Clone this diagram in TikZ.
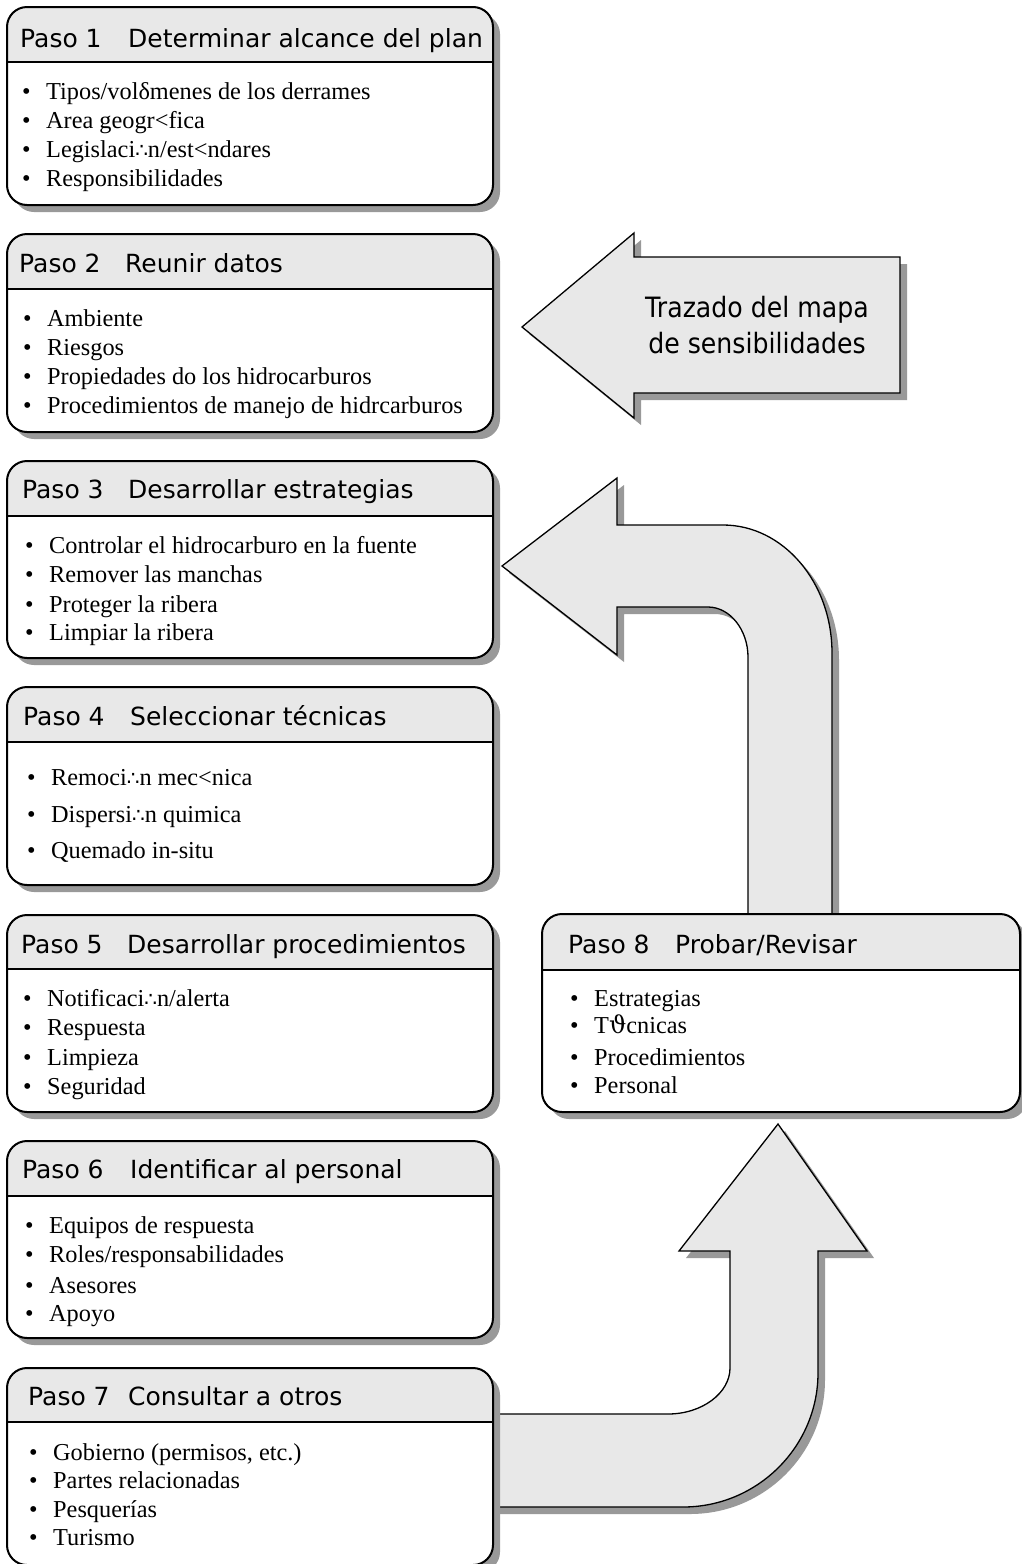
\documentclass[tikz,border=0pt]{standalone}
\usepackage{fontspec}
\setmainfont{Liberation Serif}
\newfontfamily\hdfont{DejaVu Sans}
\newfontfamily\trfont[FakeStretch=0.9]{DejaVu Sans}
\newfontfamily\symsans{DejaVu Sans}
\newfontfamily\symserif{DejaVu Serif}
\newcommand\thf{{\symsans\fontsize{20}{24}\selectfont ∴}}
\newcommand\vth{{\symserif ϑ}}
\definecolor{hdrc}{HTML}{E8E8E8}
\definecolor{shadowc}{HTML}{999999}
\tikzset{
  hdtext/.style={anchor=base west, inner sep=0pt, font=\hdfont\fontsize{25}{30}\selectfont},
  itext/.style={anchor=base west, inner sep=0pt, font=\fontsize{24.3}{29}\selectfont},
  btext/.style={anchor=base west, inner sep=0pt, font=\fontsize{24.3}{29}\selectfont},
  arrowshape/.style={fill=hdrc, draw=black, line width=1.3pt, line join=miter},
  arrowshadow/.style={fill=shadowc},
}
\newcommand\stepframe[6]{%
  \fill[shadowc, rounded corners=20pt] ({#2+7},{#3+7}) rectangle ({#4+7},{#6+7});
  \begin{scope}
    \clip[rounded corners=20pt] (#2,#3) rectangle (#4,#6);
    \fill[hdrc] (#2,#3) rectangle (#4,#5);
    \fill[white] (#2,#5) rectangle (#4,#6);
  \end{scope}
  \draw[line width=1.4pt] (#2,#5) -- (#4,#5);
  \draw[line width=2pt, rounded corners=20pt] (#2,#3) rectangle (#4,#6);
  \coordinate (#1) at (#2,#3);
}
\newcommand\hd[5]{\node[hdtext] (#1) at (#2,#3) {\makebox[#4pt][l]{#5}};}
\newcommand\itm[4]{%
  \node[btext] (#1b) at ({#2-24},#3) {•};
  \node[itext] (#1) at (#2,#3) {#4};}
\begin{document}
\begin{tikzpicture}[x=1pt,y=-1pt]
\useasboundingbox (0,0) rectangle (1021,1564);
\fill[white] (0,0) rectangle (1021,1564);

% ---- Arrow 1: Trazado del mapa de sensibilidades
\path[arrowshadow, shift={(7,7)}] (522,327) -- (634,233) -- (634,257) -- (900,257) -- (900,393) -- (634,393) -- (634,418) -- cycle;
\path[arrowshape] (522,327) -- (634,233) -- (634,257) -- (900,257) -- (900,393) -- (634,393) -- (634,418) -- cycle;
\node[align=center, inner sep=0pt, font=\trfont\fontsize{28}{36}\selectfont, anchor=base] (traz) at (757,353) {Trazado del mapa\\de sensibilidades};

% ---- Arrow 2: from Paso 8 up and left to Paso 3
\path[arrowshadow, shift={(7,7)}] (502,566) -- (617,478) -- (617,525) -- (723,525)
  .. controls (783,525) and (832,582) .. (832,653) -- (832,914) -- (748,914) -- (748,657)
  .. controls (748,630) and (730,607) .. (708,607) -- (617,607) -- (617,655) -- cycle;
\path[arrowshape] (502,566) -- (617,478) -- (617,525) -- (723,525)
  .. controls (783,525) and (832,582) .. (832,653) -- (832,918) -- (748,918) -- (748,657)
  .. controls (748,630) and (730,607) .. (708,607) -- (617,607) -- (617,655) -- cycle;

% ---- Arrow 3: from Paso 7 right and up to Paso 8
\path[arrowshadow, shift={(7,7)}] (778,1124) -- (867,1251) -- (818,1251) -- (818,1373)
  .. controls (818,1446) and (758,1507) .. (683,1507) -- (488,1507) -- (488,1414) -- (668,1414)
  .. controls (702,1414) and (730,1393) .. (730,1368) -- (730,1251) -- (679,1251) -- cycle;
\path[arrowshape] (778,1124) -- (867,1251) -- (818,1251) -- (818,1373)
  .. controls (818,1446) and (758,1507) .. (683,1507) -- (488,1507) -- (488,1414) -- (668,1414)
  .. controls (702,1414) and (730,1393) .. (730,1368) -- (730,1251) -- (679,1251) -- cycle;

% ---- Boxes
\stepframe{b1}{7}{7}{493}{62}{205}
\stepframe{b2}{7}{234}{493}{289}{432}
\stepframe{b3}{7}{461}{493}{516}{658}
\stepframe{b4}{7}{687}{493}{742}{885}
\stepframe{b5}{7}{915}{493}{969}{1112}
\stepframe{b6}{7}{1141}{493}{1196}{1338}
\stepframe{b7}{7}{1368}{493}{1422}{1565}
\stepframe{b8}{542}{914}{1020}{970}{1112}

% ---- Headers
\hd{h1}{20}{47}{108}{Paso 1}
\node[hdtext] (h1t) at (128,47) {Determinar alcance del plan};
\hd{h2}{19}{272}{106}{Paso 2}
\node[hdtext] (h2t) at (125,272) {Reunir datos};
\hd{h3}{22}{498}{106}{Paso 3}
\node[hdtext] (h3t) at (128,498) {Desarrollar estrategias};
\hd{h4}{23}{725}{107}{Paso 4}
\node[hdtext] (h4t) at (130,725) {Seleccionar técnicas};
\hd{h5}{21}{953}{106}{Paso 5}
\node[hdtext] (h5t) at (127,953) {Desarrollar procedimientos};
\hd{h6}{22}{1178}{108}{Paso 6}
\node[hdtext] (h6t) at (130,1178) {Identificar al personal};
\hd{h7}{28}{1405}{100}{Paso 7}
\node[hdtext] (h7t) at (128,1405) {Consultar a otros};
\hd{h8}{568}{953}{107}{Paso 8}
\node[hdtext] (h8t) at (675,953) {Probar/Revisar};

% ---- Items
\itm{a1}{46}{99}{Tipos/volδmenes de los derrames}
\itm{a2}{46}{128}{Area geogr<fica}
\itm{a3}{46}{157}{Legislaci\thf n/est<ndares}
\itm{a4}{46}{186}{Responsibilidades}

\itm{c1}{47}{326}{Ambiente}
\itm{c2}{47}{355}{Riesgos}
\itm{c3}{47}{384}{Propiedades do los hidrocarburos}
\itm{c4}{47}{413}{Procedimientos de manejo de hidrcarburos}

\itm{d1}{49}{553}{Controlar el hidrocarburo en la fuente}
\itm{d2}{49}{582}{Remover las manchas}
\itm{d3}{49}{612}{Proteger la ribera}
\itm{d4}{49}{640}{Limpiar la ribera}

\itm{e1}{51}{785}{Remoci\thf n mec<nica}
\itm{e2}{51}{822}{Dispersi\thf n quimica}
\itm{e3}{51}{858}{Quemado in-situ}

\itm{f1}{47}{1006}{Notificaci\thf n/alerta}
\itm{f2}{47}{1035}{Respuesta}
\itm{f3}{47}{1065}{Limpieza}
\itm{f4}{47}{1094}{Seguridad}

\itm{g1}{49}{1233}{Equipos de respuesta}
\itm{g2}{49}{1262}{Roles/responsabilidades}
\itm{g3}{49}{1293}{Asesores}
\itm{g4}{49}{1321}{Apoyo}

\itm{k1}{53}{1460}{Gobierno (permisos, etc.)}
\itm{k2}{53}{1488}{Partes relacionadas}
\itm{k3}{53}{1517}{Pesquerías}
\itm{k4}{53}{1545}{Turismo}

\itm{m1}{594}{1006}{Estrategias}
\itm{m2}{594}{1033}{T\vth cnicas}
\itm{m3}{594}{1065}{Procedimientos}
\itm{m4}{594}{1093}{Personal}
\end{tikzpicture}
\end{document}
